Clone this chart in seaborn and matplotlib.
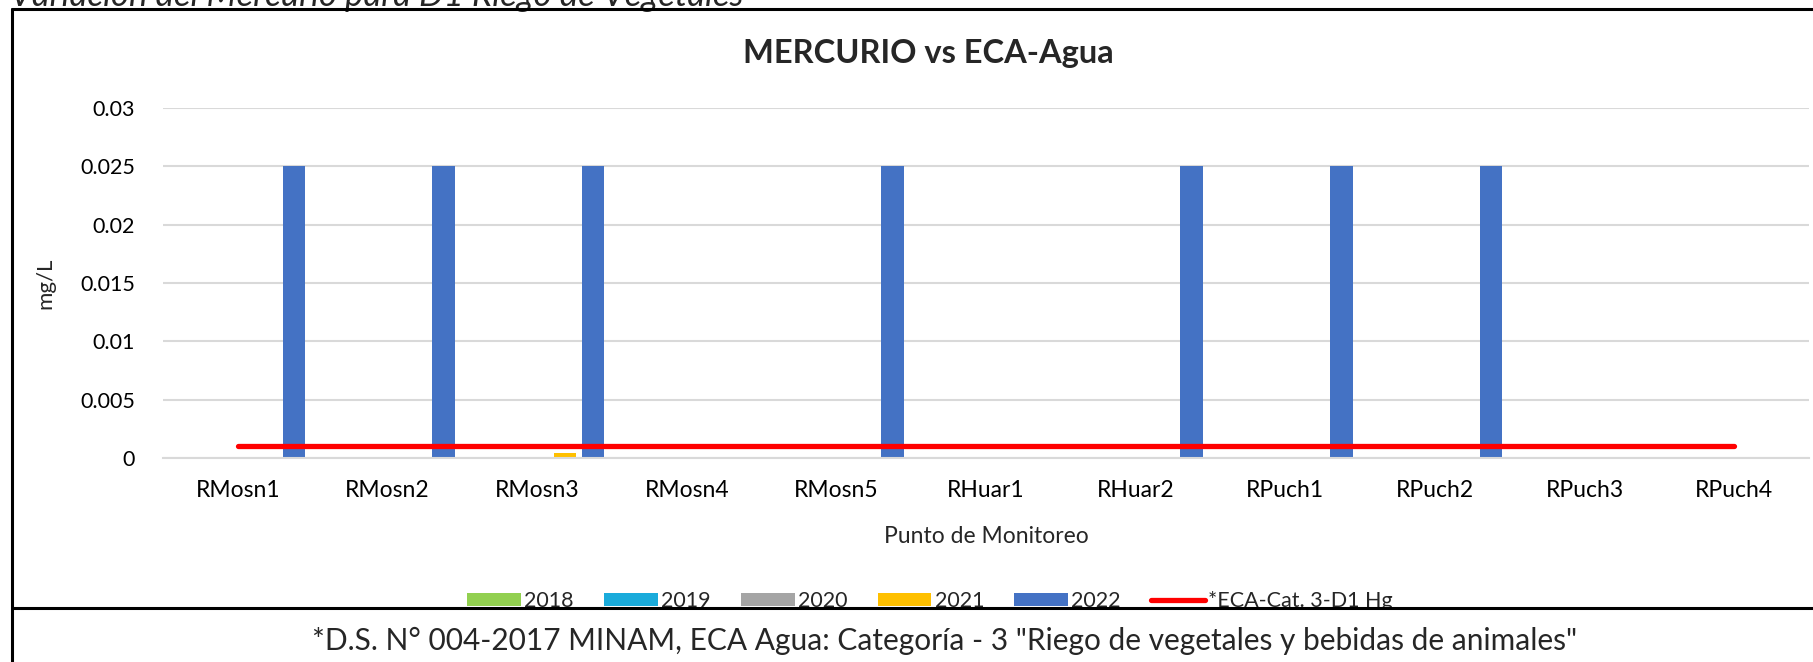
import matplotlib
matplotlib.use("Agg")
import matplotlib.pyplot as plt
import matplotlib.patches as mpatches
import matplotlib.lines as mlines
import numpy as np
import pandas as pd
import seaborn as sns

puntos = ["RMosn1", "RMosn2", "RMosn3", "RMosn4", "RMosn5", "RHuar1",
          "RHuar2", "RPuch1", "RPuch2", "RPuch3", "RPuch4"]
anios = ["2018", "2019", "2020", "2021", "2022"]
hg_2018 = [0, 0, 0, 0, 0, 0, 0, 0, 0, 0, 0]
hg_2019 = [0, 0, 0, 0, 0, 0, 0, 0, 0, 0, 0]
hg_2020 = [0, 0, 0, 0, 0, 0, 0, 0, 0, 0, 0]
hg_2021 = [0, 0, 0.0004, 0, 0, 0, 0, 0, 0, 0, 0]
hg_2022 = [0.025, 0.025, 0.025, 0, 0.025, 0, 0.025, 0.025, 0.025, 0, 0]
eca_hg = [0.001, 0.001, 0.001, 0.001, 0.001, 0.001, 0.001, 0.001, 0.001, 0.001, 0.001]
colores = ["#92D050", "#1AABDB", "#A5A5A5", "#FFC000", "#4472C4"]

df = pd.DataFrame({
  "punto": puntos * 5,
  "anio": np.repeat(anios, len(puntos)),
  "valor": hg_2018 + hg_2019 + hg_2020 + hg_2021 + hg_2022,
})

sns.set_style("white")
plt.rcParams["font.family"] = ["Lato", "DejaVu Sans"]

W, H = 1813, 662
fig = plt.figure(figsize=(W / 100, H / 100), dpi=100)
ax = fig.add_axes([163 / W, 1 - 458 / H, (1809 - 163) / W, (458 - 108) / H])

sns.barplot(data=df, x="punto", y="valor", hue="anio", palette=colores, saturation=1,
            width=0.936, gap=0.2, ax=ax, linewidth=0, errorbar=None, legend=True)
sns.lineplot(x=np.arange(len(puntos)), y=eca_hg, color="#FF0000", linewidth=3.8,
             ax=ax, label="*ECA-Cat. 3-D1 Hg", solid_capstyle="round")

ax.set_xlim(-0.5, len(puntos) - 0.5)
ax.set_ylim(0, 0.03)
ax.set_yticks([0, 0.005, 0.01, 0.015, 0.02, 0.025, 0.03])
ax.set_yticklabels(["0", "0.005", "0.01", "0.015", "0.02", "0.025", "0.03"])
ax.set_xticks(range(len(puntos)))
ax.set_xticklabels(puntos)
ax.tick_params(axis="x", labelsize=16.5, length=0, colors="#000000", pad=16)
ax.tick_params(axis="y", labelsize=15.5, length=0, colors="#000000", pad=20)
ax.yaxis.grid(True, color="#D9D9D9", linewidth=1.5)
ax.set_axisbelow(True)
for s in ["top", "right", "left"]:
  ax.spines[s].set_visible(False)
ax.spines["bottom"].set_color("#D9D9D9")
ax.spines["bottom"].set_linewidth(1.5)
ax.set_xlabel("Punto de Monitoreo", fontsize=16.5, labelpad=18)
ax.set_ylabel("mg/L", fontsize=16)
ax.yaxis.set_label_coords(-(163 - 55) / (1809 - 163), 0.5)

handles, labels = ax.get_legend_handles_labels()
ax.legend(handles, labels, ncol=6, loc="center", bbox_to_anchor=(930 / W, 1 - 601 / H),
          bbox_transform=fig.transFigure, frameon=False, fontsize=15.5,
          handlelength=2.5, handleheight=0.6, handletextpad=0.15, columnspacing=1.4)

fig.text(928 / W, 1 - 54 / H, "MERCURIO vs ECA-Agua", ha="center", va="center",
         fontsize=23.5, fontweight="bold")
fig.text(10 / W, 1 - 6 / H, "Variación del Mercurio para D1 Riego de Vegetales",
         ha="left", va="baseline", fontsize=25, style="italic")

# caja inferior con la nota, tapa parte de la leyenda
fig.patches.append(mpatches.Rectangle((0, 0), 1, 1 - 608 / H, transform=fig.transFigure,
                                      facecolor="white", edgecolor="none", zorder=10))
fig.lines.append(mlines.Line2D([12 / W, 1], [1 - 608 / H, 1 - 608 / H], transform=fig.transFigure,
                               color="black", linewidth=2.2, zorder=11))
fig.lines.append(mlines.Line2D([12 / W, 1], [1 - 9 / H, 1 - 9 / H], transform=fig.transFigure,
                               color="black", linewidth=2.2, zorder=11))
fig.lines.append(mlines.Line2D([12 / W, 12 / W], [0, 1 - 9 / H], transform=fig.transFigure,
                               color="black", linewidth=2.2, zorder=11))
fig.text(945 / W, 1 - 641 / H,
         '*D.S. N° 004-2017 MINAM, ECA Agua: Categoría - 3 "Riego de vegetales y bebidas de animales"',
         ha="center", va="center", fontsize=21.5, zorder=12)

fig.savefig("out.png", dpi=100)
plt.close()
